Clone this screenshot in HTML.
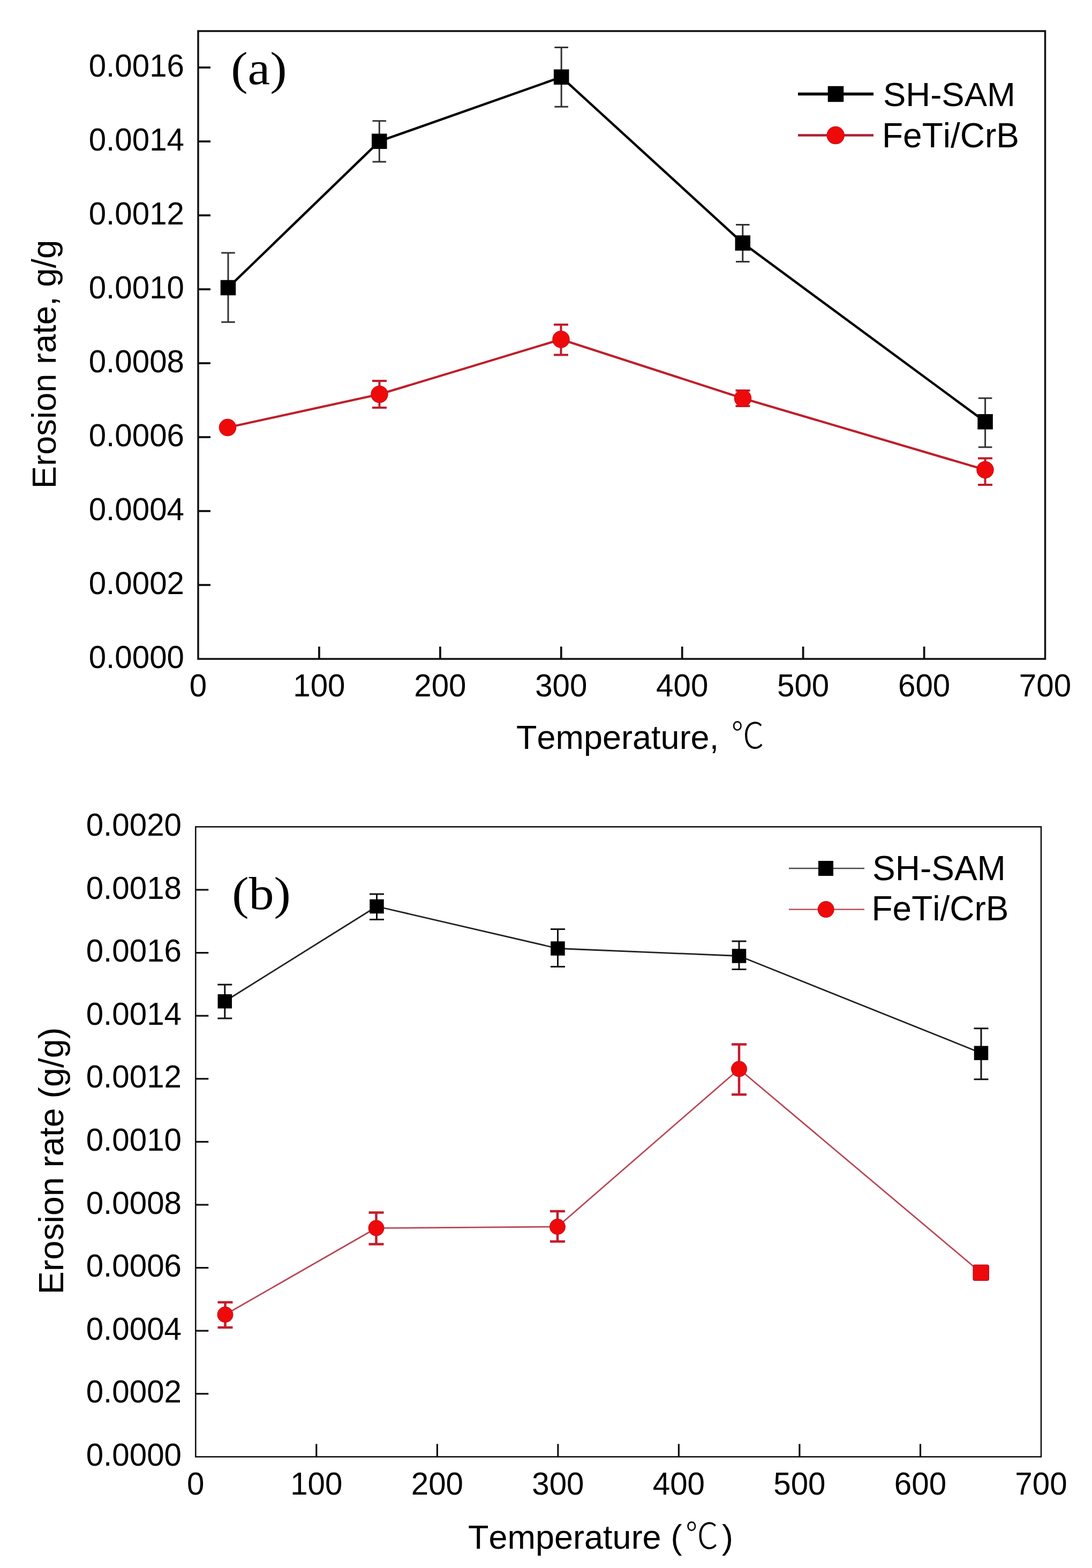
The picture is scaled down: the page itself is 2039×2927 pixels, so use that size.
<!DOCTYPE html>
<html><head><meta charset="utf-8"><title>Erosion rate vs Temperature</title>
<style>html,body{margin:0;padding:0;background:#fff;}svg{display:block;}text{font-kerning:none;font-feature-settings:'kern' 0;}</style></head>
<body><svg width="2039" height="2927" viewBox="0 0 2039 2927">
<rect width="2039" height="2927" fill="#fff"/>
<rect x="370" y="58" width="1581.5" height="1172" fill="none" stroke="#111" stroke-width="3.5"/>
<line x1="370" y1="1092.0" x2="393" y2="1092.0" stroke="#111" stroke-width="3.8"/>
<line x1="370" y1="954.0" x2="393" y2="954.0" stroke="#111" stroke-width="3.8"/>
<line x1="370" y1="816.0" x2="393" y2="816.0" stroke="#111" stroke-width="3.8"/>
<line x1="370" y1="678.0" x2="393" y2="678.0" stroke="#111" stroke-width="3.8"/>
<line x1="370" y1="540.0" x2="393" y2="540.0" stroke="#111" stroke-width="3.8"/>
<line x1="370" y1="402.0" x2="393" y2="402.0" stroke="#111" stroke-width="3.8"/>
<line x1="370" y1="264.0" x2="393" y2="264.0" stroke="#111" stroke-width="3.8"/>
<line x1="370" y1="126.0" x2="393" y2="126.0" stroke="#111" stroke-width="3.8"/>
<line x1="595.9" y1="1230" x2="595.9" y2="1207" stroke="#111" stroke-width="3.8"/>
<line x1="821.9" y1="1230" x2="821.9" y2="1207" stroke="#111" stroke-width="3.8"/>
<line x1="1047.8" y1="1230" x2="1047.8" y2="1207" stroke="#111" stroke-width="3.8"/>
<line x1="1273.7" y1="1230" x2="1273.7" y2="1207" stroke="#111" stroke-width="3.8"/>
<line x1="1499.6" y1="1230" x2="1499.6" y2="1207" stroke="#111" stroke-width="3.8"/>
<line x1="1725.6" y1="1230" x2="1725.6" y2="1207" stroke="#111" stroke-width="3.8"/>
<text x="344" y="1246.5" text-anchor="end" font-size="58.3" font-family="'Liberation Sans', Arial, sans-serif">0.0000</text>
<text x="344" y="1108.5" text-anchor="end" font-size="58.3" font-family="'Liberation Sans', Arial, sans-serif">0.0002</text>
<text x="344" y="970.5" text-anchor="end" font-size="58.3" font-family="'Liberation Sans', Arial, sans-serif">0.0004</text>
<text x="344" y="832.5" text-anchor="end" font-size="58.3" font-family="'Liberation Sans', Arial, sans-serif">0.0006</text>
<text x="344" y="694.5" text-anchor="end" font-size="58.3" font-family="'Liberation Sans', Arial, sans-serif">0.0008</text>
<text x="344" y="556.5" text-anchor="end" font-size="58.3" font-family="'Liberation Sans', Arial, sans-serif">0.0010</text>
<text x="344" y="418.5" text-anchor="end" font-size="58.3" font-family="'Liberation Sans', Arial, sans-serif">0.0012</text>
<text x="344" y="280.5" text-anchor="end" font-size="58.3" font-family="'Liberation Sans', Arial, sans-serif">0.0014</text>
<text x="344" y="142.5" text-anchor="end" font-size="58.3" font-family="'Liberation Sans', Arial, sans-serif">0.0016</text>
<text x="370.0" y="1300" text-anchor="middle" font-size="58.3" font-family="'Liberation Sans', Arial, sans-serif">0</text>
<text x="595.9" y="1300" text-anchor="middle" font-size="58.3" font-family="'Liberation Sans', Arial, sans-serif">100</text>
<text x="821.9" y="1300" text-anchor="middle" font-size="58.3" font-family="'Liberation Sans', Arial, sans-serif">200</text>
<text x="1047.8" y="1300" text-anchor="middle" font-size="58.3" font-family="'Liberation Sans', Arial, sans-serif">300</text>
<text x="1273.7" y="1300" text-anchor="middle" font-size="58.3" font-family="'Liberation Sans', Arial, sans-serif">400</text>
<text x="1499.6" y="1300" text-anchor="middle" font-size="58.3" font-family="'Liberation Sans', Arial, sans-serif">500</text>
<text x="1725.6" y="1300" text-anchor="middle" font-size="58.3" font-family="'Liberation Sans', Arial, sans-serif">600</text>
<text x="1951.5" y="1300" text-anchor="middle" font-size="58.3" font-family="'Liberation Sans', Arial, sans-serif">700</text>
<polyline points="426,537 708.3,263.8 1048.2,143.8 1386.8,453.6 1839.6,787.3" fill="none" stroke="#000" stroke-width="4.4" stroke-linejoin="round"/>
<path d="M426,472 V601.2 M413.25,472 H438.75 M413.25,601.2 H438.75" stroke="#333" stroke-width="3" fill="none"/>
<rect x="411.75" y="522.75" width="28.5" height="28.5" fill="#000"/>
<path d="M708.3,225.8 V302 M695.55,225.8 H721.05 M695.55,302 H721.05" stroke="#333" stroke-width="3" fill="none"/>
<rect x="694.05" y="249.55" width="28.5" height="28.5" fill="#000"/>
<path d="M1048.2,88.5 V199.2 M1035.45,88.5 H1060.95 M1035.45,199.2 H1060.95" stroke="#333" stroke-width="3" fill="none"/>
<rect x="1033.95" y="129.55" width="28.5" height="28.5" fill="#000"/>
<path d="M1386.8,419.5 V488.5 M1374.05,419.5 H1399.55 M1374.05,488.5 H1399.55" stroke="#333" stroke-width="3" fill="none"/>
<rect x="1372.55" y="439.35" width="28.5" height="28.5" fill="#000"/>
<path d="M1839.6,743.3 V834.7 M1826.85,743.3 H1852.35 M1826.85,834.7 H1852.35" stroke="#333" stroke-width="3" fill="none"/>
<rect x="1825.35" y="773.05" width="28.5" height="28.5" fill="#000"/>
<polyline points="425,798 708.5,736 1047.5,633.5 1387,743.5 1839.5,877" fill="none" stroke="#c01e2a" stroke-width="4.2" stroke-linejoin="round"/>
<circle cx="425" cy="798" r="15.65" fill="#ee0a0a" stroke="#c8101c" stroke-width="1.2"/>
<path d="M708.5,711 V761 M695.0,711 H722.0 M695.0,761 H722.0" stroke="#c01c2a" stroke-width="4" fill="none"/>
<circle cx="708.5" cy="736" r="15.65" fill="#ee0a0a" stroke="#c8101c" stroke-width="1.2"/>
<path d="M1047.5,606 V662.5 M1034.0,606 H1061.0 M1034.0,662.5 H1061.0" stroke="#c01c2a" stroke-width="4" fill="none"/>
<circle cx="1047.5" cy="633.5" r="15.65" fill="#ee0a0a" stroke="#c8101c" stroke-width="1.2"/>
<path d="M1387,729 V758 M1373.5,729 H1400.5 M1373.5,758 H1400.5" stroke="#c01c2a" stroke-width="4" fill="none"/>
<circle cx="1387" cy="743.5" r="15.65" fill="#ee0a0a" stroke="#c8101c" stroke-width="1.2"/>
<path d="M1839.5,855.5 V905 M1826.0,855.5 H1853.0 M1826.0,905 H1853.0" stroke="#c01c2a" stroke-width="4" fill="none"/>
<circle cx="1839.5" cy="877" r="15.65" fill="#ee0a0a" stroke="#c8101c" stroke-width="1.2"/>
<line x1="1490" y1="175.5" x2="1631" y2="175.5" stroke="#000" stroke-width="5.5"/>
<rect x="1545.75" y="160.75" width="29.5" height="29.5" fill="#000"/>
<text x="1649" y="198" font-size="63.5" font-family="'Liberation Sans', Arial, sans-serif">SH-SAM</text>
<line x1="1490" y1="252.6" x2="1631" y2="252.6" stroke="#b02030" stroke-width="4.5"/>
<circle cx="1560.2" cy="252.6" r="16.15" fill="#ee0a0a" stroke="#c8101c" stroke-width="1.2"/>
<text x="1647" y="274.5" font-size="64" font-family="'Liberation Sans', Arial, sans-serif">FeTi/CrB</text>
<text transform="translate(431.2,156.7) scale(1.07,0.975)" font-size="88" font-family="'Liberation Serif', 'Times New Roman', serif">(a)</text>
<text transform="translate(104,680) rotate(-90)" text-anchor="middle" font-size="63.3" font-family="'Liberation Sans', Arial, sans-serif">Erosion rate, g/g</text>
<text transform="translate(964,1398) scale(1,1)" font-size="63" font-family="'Liberation Sans', Arial, sans-serif" >Temperature,</text>
<text transform="translate(1365.3,1397.4) scale(0.92,1)" font-size="67" font-family="'Noto Sans CJK SC', sans-serif" font-weight="300">℃</text>
<rect x="365.3" y="1543.4" width="1578.7" height="1176.0" fill="none" stroke="#111" stroke-width="2.6"/>
<line x1="365.3" y1="2601.8" x2="389.3" y2="2601.8" stroke="#111" stroke-width="3.2"/>
<line x1="365.3" y1="2484.2" x2="389.3" y2="2484.2" stroke="#111" stroke-width="3.2"/>
<line x1="365.3" y1="2366.6" x2="389.3" y2="2366.6" stroke="#111" stroke-width="3.2"/>
<line x1="365.3" y1="2249.0" x2="389.3" y2="2249.0" stroke="#111" stroke-width="3.2"/>
<line x1="365.3" y1="2131.4" x2="389.3" y2="2131.4" stroke="#111" stroke-width="3.2"/>
<line x1="365.3" y1="2013.8" x2="389.3" y2="2013.8" stroke="#111" stroke-width="3.2"/>
<line x1="365.3" y1="1896.2" x2="389.3" y2="1896.2" stroke="#111" stroke-width="3.2"/>
<line x1="365.3" y1="1778.6" x2="389.3" y2="1778.6" stroke="#111" stroke-width="3.2"/>
<line x1="365.3" y1="1661.0" x2="389.3" y2="1661.0" stroke="#111" stroke-width="3.2"/>
<line x1="590.8" y1="2719.4" x2="590.8" y2="2695.4" stroke="#111" stroke-width="3.2"/>
<line x1="816.4" y1="2719.4" x2="816.4" y2="2695.4" stroke="#111" stroke-width="3.2"/>
<line x1="1041.9" y1="2719.4" x2="1041.9" y2="2695.4" stroke="#111" stroke-width="3.2"/>
<line x1="1267.4" y1="2719.4" x2="1267.4" y2="2695.4" stroke="#111" stroke-width="3.2"/>
<line x1="1492.9" y1="2719.4" x2="1492.9" y2="2695.4" stroke="#111" stroke-width="3.2"/>
<line x1="1718.5" y1="2719.4" x2="1718.5" y2="2695.4" stroke="#111" stroke-width="3.2"/>
<text x="339" y="2735.9" text-anchor="end" font-size="58.3" font-family="'Liberation Sans', Arial, sans-serif">0.0000</text>
<text x="339" y="2618.3" text-anchor="end" font-size="58.3" font-family="'Liberation Sans', Arial, sans-serif">0.0002</text>
<text x="339" y="2500.7" text-anchor="end" font-size="58.3" font-family="'Liberation Sans', Arial, sans-serif">0.0004</text>
<text x="339" y="2383.1" text-anchor="end" font-size="58.3" font-family="'Liberation Sans', Arial, sans-serif">0.0006</text>
<text x="339" y="2265.5" text-anchor="end" font-size="58.3" font-family="'Liberation Sans', Arial, sans-serif">0.0008</text>
<text x="339" y="2147.9" text-anchor="end" font-size="58.3" font-family="'Liberation Sans', Arial, sans-serif">0.0010</text>
<text x="339" y="2030.3" text-anchor="end" font-size="58.3" font-family="'Liberation Sans', Arial, sans-serif">0.0012</text>
<text x="339" y="1912.7" text-anchor="end" font-size="58.3" font-family="'Liberation Sans', Arial, sans-serif">0.0014</text>
<text x="339" y="1795.1" text-anchor="end" font-size="58.3" font-family="'Liberation Sans', Arial, sans-serif">0.0016</text>
<text x="339" y="1677.5" text-anchor="end" font-size="58.3" font-family="'Liberation Sans', Arial, sans-serif">0.0018</text>
<text x="339" y="1559.9" text-anchor="end" font-size="58.3" font-family="'Liberation Sans', Arial, sans-serif">0.0020</text>
<text x="365.3" y="2790" text-anchor="middle" font-size="58.3" font-family="'Liberation Sans', Arial, sans-serif">0</text>
<text x="590.8" y="2790" text-anchor="middle" font-size="58.3" font-family="'Liberation Sans', Arial, sans-serif">100</text>
<text x="816.4" y="2790" text-anchor="middle" font-size="58.3" font-family="'Liberation Sans', Arial, sans-serif">200</text>
<text x="1041.9" y="2790" text-anchor="middle" font-size="58.3" font-family="'Liberation Sans', Arial, sans-serif">300</text>
<text x="1267.4" y="2790" text-anchor="middle" font-size="58.3" font-family="'Liberation Sans', Arial, sans-serif">400</text>
<text x="1492.9" y="2790" text-anchor="middle" font-size="58.3" font-family="'Liberation Sans', Arial, sans-serif">500</text>
<text x="1718.5" y="2790" text-anchor="middle" font-size="58.3" font-family="'Liberation Sans', Arial, sans-serif">600</text>
<text x="1944.0" y="2790" text-anchor="middle" font-size="58.3" font-family="'Liberation Sans', Arial, sans-serif">700</text>
<polyline points="419.8,1869.2 703.5,1692 1041.5,1770.5 1380,1784.5 1832,1965.7" fill="none" stroke="#222" stroke-width="2.8" stroke-linejoin="round"/>
<path d="M419.8,1838 V1901 M406.3,1838 H433.3 M406.3,1901 H433.3" stroke="#111" stroke-width="3" fill="none"/>
<rect x="406.55" y="1855.95" width="26.5" height="26.5" fill="#000"/>
<path d="M703.5,1669 V1716.5 M690.0,1669 H717.0 M690.0,1716.5 H717.0" stroke="#111" stroke-width="3" fill="none"/>
<rect x="690.25" y="1678.75" width="26.5" height="26.5" fill="#000"/>
<path d="M1041.5,1734.5 V1804.5 M1028.0,1734.5 H1055.0 M1028.0,1804.5 H1055.0" stroke="#111" stroke-width="3" fill="none"/>
<rect x="1028.25" y="1757.25" width="26.5" height="26.5" fill="#000"/>
<path d="M1380,1757 V1809.5 M1366.5,1757 H1393.5 M1366.5,1809.5 H1393.5" stroke="#111" stroke-width="3" fill="none"/>
<rect x="1366.75" y="1771.25" width="26.5" height="26.5" fill="#000"/>
<path d="M1832,1919.8 V2014.7 M1818.5,1919.8 H1845.5 M1818.5,2014.7 H1845.5" stroke="#111" stroke-width="3" fill="none"/>
<rect x="1818.75" y="1952.45" width="26.5" height="26.5" fill="#000"/>
<polyline points="420.5,2454 702.5,2292.5 1041,2290 1380,1995.5 1831.7,2375.7" fill="none" stroke="#b84454" stroke-width="2.7" stroke-linejoin="round"/>
<path d="M420.5,2431 V2478 M406.5,2431 H434.5 M406.5,2478 H434.5" stroke="#c41c2c" stroke-width="4.5" fill="none"/>
<circle cx="420.5" cy="2454" r="14.4" fill="#ee0a0a" stroke="#c8101c" stroke-width="1.2"/>
<path d="M702.5,2263.5 V2322.5 M688.5,2263.5 H716.5 M688.5,2322.5 H716.5" stroke="#c41c2c" stroke-width="4.5" fill="none"/>
<circle cx="702.5" cy="2292.5" r="14.4" fill="#ee0a0a" stroke="#c8101c" stroke-width="1.2"/>
<path d="M1041,2261 V2317.5 M1027.0,2261 H1055.0 M1027.0,2317.5 H1055.0" stroke="#c41c2c" stroke-width="4.5" fill="none"/>
<circle cx="1041" cy="2290" r="14.4" fill="#ee0a0a" stroke="#c8101c" stroke-width="1.2"/>
<path d="M1380,1949.5 V2043.3 M1366.0,1949.5 H1394.0 M1366.0,2043.3 H1394.0" stroke="#c41c2c" stroke-width="4.5" fill="none"/>
<circle cx="1380" cy="1995.5" r="14.4" fill="#ee0a0a" stroke="#c8101c" stroke-width="1.2"/>
<rect x="1817.2" y="2361.2" width="29" height="29" rx="3" fill="#ee0a0a" stroke="#b8141e" stroke-width="1.6"/>
<line x1="1473" y1="1621" x2="1614" y2="1621" stroke="#4a4a4a" stroke-width="2.6"/>
<rect x="1528.0" y="1607.0" width="28" height="28" fill="#000"/>
<text x="1629" y="1643" font-size="64" font-family="'Liberation Sans', Arial, sans-serif">SH-SAM</text>
<line x1="1473" y1="1697.6" x2="1614" y2="1697.6" stroke="#c06068" stroke-width="2.6"/>
<circle cx="1542.2" cy="1697.6" r="14.9" fill="#ee0a0a" stroke="#c8101c" stroke-width="1.2"/>
<text x="1627.5" y="1718" font-size="64" font-family="'Liberation Sans', Arial, sans-serif">FeTi/CrB</text>
<text transform="translate(433.2,1696.9) scale(1.07,0.98)" font-size="88" font-family="'Liberation Serif', 'Times New Roman', serif">(b)</text>
<text transform="translate(118,2167) rotate(-90)" text-anchor="middle" font-size="64.5" font-family="'Liberation Sans', Arial, sans-serif">Erosion rate (g/g)</text>
<text transform="translate(874,2891) scale(1,1)" font-size="63" font-family="'Liberation Sans', Arial, sans-serif" >Temperature</text>
<text transform="translate(1252.6,2890.8) scale(1,1)" font-size="63" font-family="'Liberation Sans', Arial, sans-serif" >(</text>
<text transform="translate(1279.8,2890.5) scale(0.92,1)" font-size="67" font-family="'Noto Sans CJK SC', sans-serif" font-weight="300">℃</text>
<text transform="translate(1348,2890.8) scale(1,1)" font-size="63" font-family="'Liberation Sans', Arial, sans-serif" >)</text>
</svg></body></html>
